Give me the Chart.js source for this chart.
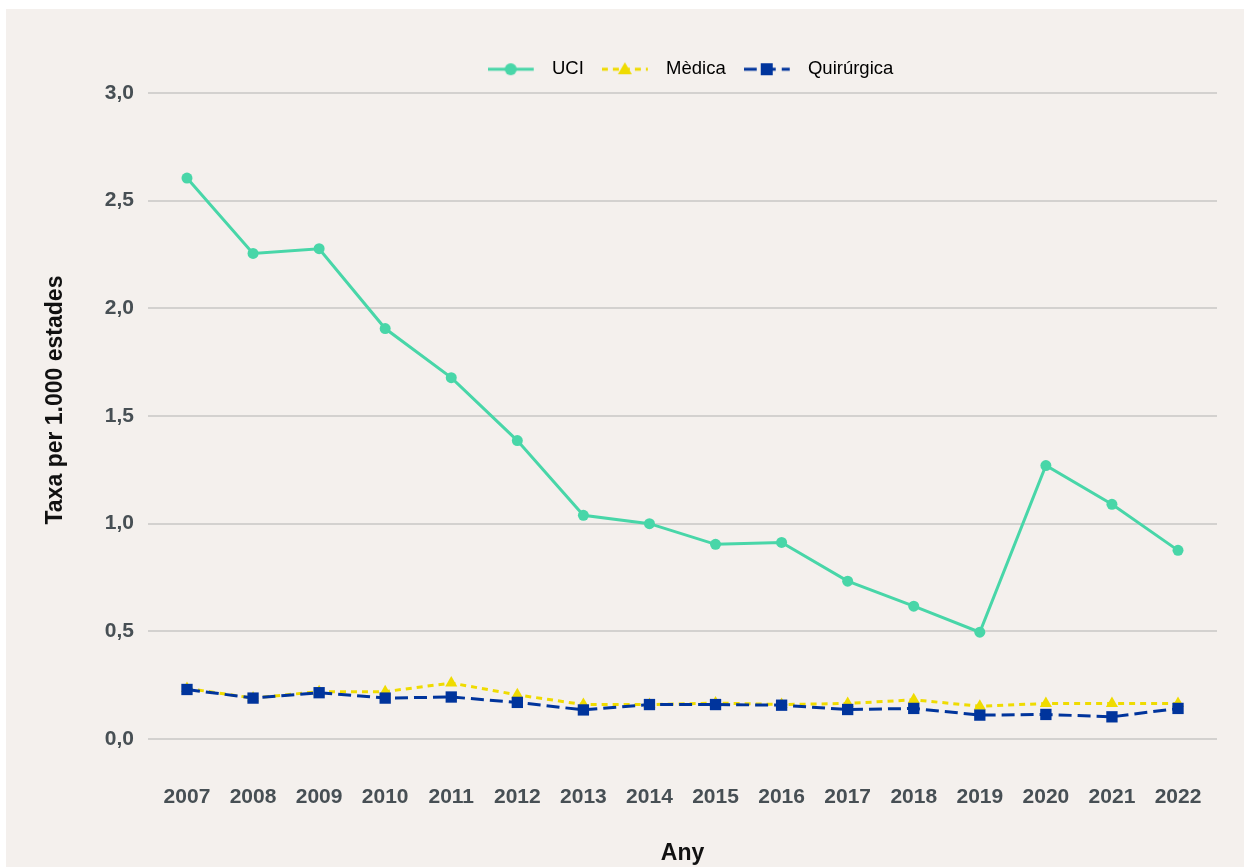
<!DOCTYPE html>
<html>
<head>
<meta charset="utf-8">
<script src="https://cdn.jsdelivr.net/npm/chart.js@4/dist/chart.umd.min.js"></script>
<style>
    body { margin: 0; background: #ffffff; }
    #panel { position: absolute; left: 6px; top: 9px; width: 1238px; height: 858px; background: #f4f0ed; }
</style>
</head>
<body>
<div id="panel"><canvas id="chart" width="1238" height="858"></canvas></div>
<script>
const years = [2007, 2008, 2009, 2010, 2011, 2012, 2013, 2014, 2015, 2016, 2017, 2018, 2019, 2020, 2021, 2022];
const uci = [2.605, 2.255, 2.277, 1.906, 1.678, 1.386, 1.039, 1.0, 0.904, 0.913, 0.733, 0.617, 0.496, 1.27, 1.09, 0.876];
const medica = [0.235, 0.19, 0.22, 0.22, 0.26, 0.205, 0.16, 0.16, 0.167, 0.16, 0.165, 0.182, 0.152, 0.165, 0.165, 0.165];
const quirurgica = [0.23, 0.19, 0.215, 0.19, 0.195, 0.17, 0.135, 0.16, 0.16, 0.157, 0.137, 0.142, 0.111, 0.114, 0.103, 0.142];
const yTicks = [0, 0.5, 1, 1.5, 2, 2.5, 3];

const seriesNames = ['UCI', 'Mèdica', 'Quirúrgica'];
const colors = ['#48d6a8', '#efdb00', '#00349c'];

function toPoints(values) {
    return values.map(function (v, i) { return { x: years[i], y: v }; });
}

function makeIcon(color, dash, style) {
    var c = document.createElement('canvas');
    c.width = 55;
    c.height = 16;
    var ctx = c.getContext('2d');
    ctx.strokeStyle = color;
    ctx.fillStyle = color;
    ctx.lineWidth = 3;
    ctx.setLineDash(dash);
    ctx.beginPath();
    ctx.moveTo(0, 8);
    ctx.lineTo(46, 8);
    ctx.stroke();
    ctx.setLineDash([]);
    ctx.beginPath();
    if (style === 'circle') {
        ctx.arc(23, 8, 6, 0, Math.PI * 2);
    } else if (style === 'triangle') {
        ctx.moveTo(23, 1);
        ctx.lineTo(30, 13);
        ctx.lineTo(16, 13);
        ctx.closePath();
    } else {
        ctx.rect(17, 2, 12, 12);
    }
    ctx.fill();
    return c;
}

const icons = [
    makeIcon(colors[0], [], 'circle'),
    makeIcon(colors[1], [6, 5], 'triangle'),
    makeIcon(colors[2], [13, 6], 'rect')
];

const legendFix = {
    id: 'legendFix',
    beforeInit: function (chart) {
        const origFit = chart.legend.fit;
        chart.legend.fit = function () {
            origFit.bind(chart.legend)();
            this.height = 51;
        };
    },
    afterLayout: function (chart) {
        const lg = chart.legend;
        const dx = 79;
        lg.left += dx;
        lg.right += dx;
    }
};

const tickFont = { family: 'Liberation Sans, Arial, sans-serif', size: 21, weight: 'bold' };

new Chart(document.getElementById('chart'), {
    type: 'line',
    data: {
        datasets: [
            {
                label: seriesNames[0], data: toPoints(uci), borderColor: colors[0], backgroundColor: colors[0],
                borderWidth: 3, pointStyle: 'circle', pointRadius: 5.5, pointBorderWidth: 0, order: 0
            },
            {
                label: seriesNames[1], data: toPoints(medica), borderColor: colors[1], backgroundColor: colors[1],
                borderWidth: 3, borderDash: [6, 5], pointStyle: 'triangle', pointRadius: 7, pointBorderWidth: 0, order: 2
            },
            {
                label: seriesNames[2], data: toPoints(quirurgica), borderColor: colors[2], backgroundColor: colors[2],
                borderWidth: 3, borderDash: [13, 6], pointStyle: 'rect', pointRadius: 8, pointBorderWidth: 0, order: 1
            }
        ]
    },
    options: {
        responsive: false,
        animation: false,
        events: [],
        layout: { padding: { top: 33, right: 27, left: 0, bottom: 0 } },
        plugins: {
            tooltip: { enabled: false },
            legend: {
                position: 'top',
                labels: {
                    usePointStyle: true,
                    pointStyleWidth: 55,
                    boxHeight: 16,
                    padding: 18,
                    color: '#111111',
                    font: { family: 'Liberation Sans, Arial, sans-serif', size: 18.5 },
                    sort: function (a, b) { return a.datasetIndex - b.datasetIndex; },
                    generateLabels: function (chart) {
                        return seriesNames.map(function (name, i) {
                            return {
                                text: name, datasetIndex: i, pointStyle: icons[i],
                                fillStyle: colors[i], strokeStyle: colors[i], lineWidth: 0, hidden: false
                            };
                        });
                    }
                }
            }
        },
        scales: {
            x: {
                type: 'linear',
                min: 2006.41,
                max: 2022.59,
                afterBuildTicks: function (axis) { axis.ticks = years.map(function (v) { return { value: v }; }); },
                afterFit: function (axis) { axis.height = 128; },
                grid: { display: false, drawTicks: true, tickLength: 46 },
                border: { display: false },
                ticks: {
                    padding: 0,
                    color: '#474f54',
                    font: tickFont,
                    maxRotation: 0,
                    autoSkip: false,
                    callback: function (v) { return String(v); }
                },
                title: {
                    display: true, text: 'Any', color: '#111111',
                    font: { family: 'Liberation Sans, Arial, sans-serif', size: 23, weight: 'bold' },
                    padding: { top: 0, bottom: 0 }
                }
            },
            y: {
                min: 0,
                max: 3,
                afterBuildTicks: function (axis) { axis.ticks = yTicks.map(function (v) { return { value: v }; }); },
                afterFit: function (axis) { axis.width = 142; },
                grid: { color: '#d3d1cf', lineWidth: 2, drawTicks: false },
                border: { display: false },
                ticks: {
                    padding: 14,
                    color: '#474f54',
                    font: tickFont,
                    callback: function (v) { return v.toFixed(1).replace('.', ','); }
                },
                title: {
                    display: true, text: '     Taxa per 1.000 estades', color: '#111111',
                    font: { family: 'Liberation Sans, Arial, sans-serif', size: 23, weight: 'bold' },
                    padding: { top: 36, bottom: 0 }
                }
            }
        }
    },
    plugins: [legendFix]
});
</script>
</body>
</html>
